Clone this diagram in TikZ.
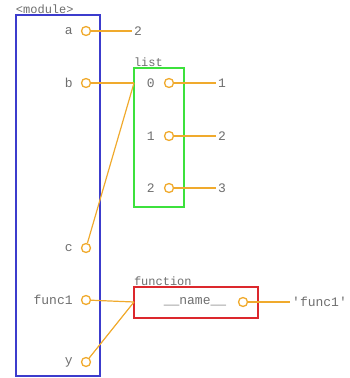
\documentclass[tikz,border=0pt]{standalone}
\usepackage{fontspec}
\setmonofont{Liberation Mono}
\usetikzlibrary{positioning}
\definecolor{modblue}{RGB}{60,60,205}
\definecolor{listgreen}{RGB}{60,225,60}
\definecolor{funcred}{RGB}{220,40,45}
\definecolor{refcol}{RGB}{240,170,45}
\definecolor{txtgray}{RGB}{110,110,110}
\begin{document}
\begin{tikzpicture}
[
    x=1pt, y=-1pt,
    txt/.style={text=txtgray, font=\ttfamily\fontsize{13}{15}\selectfont, inner sep=2pt},
    frame/.style={draw, line width=1.4pt, inner sep=0pt},
    caption/.style={txt, font=\ttfamily\fontsize{12}{13}\selectfont, inner sep=0.5pt},
    slot/.style={draw=refcol, circle, line width=1.3pt, minimum size=9pt, inner sep=0pt},
    ref/.style={draw=refcol, line width=1.2pt}
]
    \useasboundingbox (0,0) rectangle (350,378);

    % frames
    \node [frame, draw=modblue, minimum width=84pt, minimum height=361pt,
        label={[caption, anchor=south west]north west:<module>}] (module) at (58,195.5) {};
    \node [frame, draw=listgreen, minimum width=50pt, minimum height=139pt,
        label={[caption, anchor=south west]north west:list}] (list) at (159,137.5) {};
    \node [frame, draw=funcred, minimum width=124pt, minimum height=31pt,
        label={[caption, anchor=south west]north west:function}] (function) at (196,302.5) {};

    % module variables
    \node [slot] (a-slot) at (86,31) {};
    \node [slot] (b-slot) at (86,83) {};
    \node [slot] (c-slot) at (86,248) {};
    \node [slot] (func1-slot) at (86,300) {};
    \node [slot] (y-slot) at (86,362) {};
    \foreach \v in {a,b,c,func1,y}
        \node [txt, left=6pt of \v-slot] (\v) {\v};

    \node [txt, anchor=west] (a-val) at (132,31) {2};
    \draw [ref] (a-slot) -- (a-val);

    % list items
    \foreach \i/\y/\val in {0/83/1, 1/136/2, 2/188/3} {
        \node [slot] (item\i-slot) at (169,\y) {};
        \node [txt, left=7pt of item\i-slot] (item\i) {\i};
        \node [txt, anchor=west] (item\i-val) at (216,\y) {\val};
        \draw [ref] (item\i-slot) -- (item\i-val);
    }

    % function object
    \node [slot] (name-slot) at (243,302) {};
    \node [txt] (name) at (195,302) {\_\_name\_\_};
    \node [txt, anchor=west] (name-val) at (290,302) {'func1'};
    \draw [ref] (name-slot) -- (name-val);

    % references into the objects
    \coordinate (list-in) at (134,83);
    \coordinate (function-in) at (134,302);
    \draw [ref] (b-slot) -- (list-in);
    \draw [ref] (c-slot) -- (list-in);
    \draw [ref] (func1-slot) -- (function-in);
    \draw [ref] (y-slot) -- (function-in);
\end{tikzpicture}
\end{document}
